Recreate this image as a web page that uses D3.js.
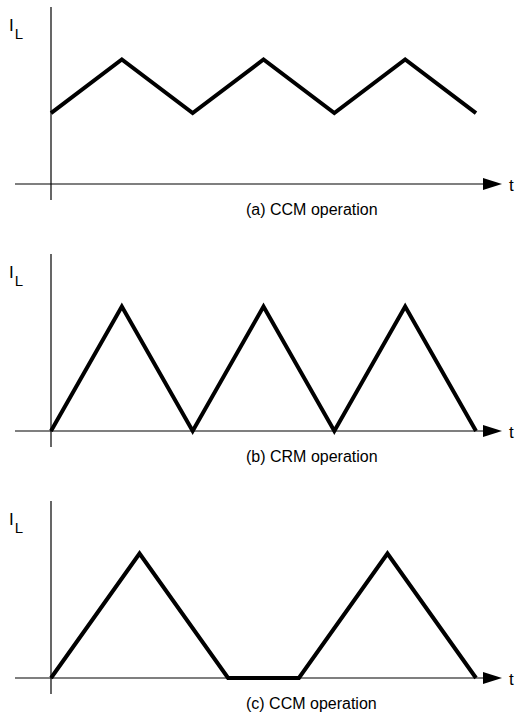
<!DOCTYPE html>
<html>
<head>
<meta charset="utf-8">
<script src="https://cdn.jsdelivr.net/npm/d3@7"></script>
<style>
  html, body { margin: 0; padding: 0; background: #fff; }
  svg { display: block; }
  text { font-family: "Liberation Sans", Arial, sans-serif; fill: #000; }
</style>
</head>
<body>
<svg id="chart" width="523" height="717"></svg>
<script>
// Inductor current waveforms, time in switching half-periods, current normalised to peak
const timeA = [0, 1, 2, 3, 4, 5, 6];
const currentA = [0.57, 1, 0.57, 1, 0.57, 1, 0.57];

const timeB = [0, 1, 2, 3, 4, 5, 6];
const currentB = [0, 1, 0, 1, 0, 1, 0];

const timeC = [0, 1.25, 2.5, 3.5, 4.75, 6];
const currentC = [0, 1, 0, 0, 1, 0];

const captions = ["(a) CCM operation", "(b) CRM operation", "(c) CCM operation"];
const yLabel = ["I", "L"];
const xLabel = "t";

const panels = [
  { t: timeA, i: currentA, caption: captions[0] },
  { t: timeB, i: currentB, caption: captions[1] },
  { t: timeC, i: currentC, caption: captions[2] }
];

const svg = d3.select("#chart");

const originX = 51;
const x = d3.scaleLinear().domain([0, 6]).range([originX, 476]);

const panelStep = 247;
const firstAxisY = 184;
const axisAbove = 177;
const axisBelow = 16;
const peakHeight = 124.5;

panels.forEach((p, k) => {
  const axisY = firstAxisY + k * panelStep;
  const y = d3.scaleLinear().domain([0, 1]).range([axisY, axisY - peakHeight]);
  const g = svg.append("g");

  // vertical axis
  g.append("line")
    .attr("x1", originX).attr("x2", originX)
    .attr("y1", axisY - axisAbove).attr("y2", axisY + axisBelow)
    .attr("stroke", "#000").attr("stroke-width", 1.2);

  // horizontal (time) axis with arrowhead
  g.append("line")
    .attr("x1", 15).attr("x2", 485)
    .attr("y1", axisY).attr("y2", axisY)
    .attr("stroke", "#000").attr("stroke-width", 1.2);
  g.append("path")
    .attr("d", `M483,${axisY - 6} L502,${axisY} L483,${axisY + 6} Z`)
    .attr("fill", "#000");

  g.append("text")
    .attr("x", 509).attr("y", axisY + 6.5)
    .attr("font-size", 17)
    .text(xLabel);

  // I_L label
  const lbl = g.append("text").attr("x", 9).attr("y", axisY - 153);
  lbl.append("tspan").attr("font-size", 17).text(yLabel[0]);
  lbl.append("tspan").attr("font-size", 15).attr("dx", 1).attr("dy", 8).text(yLabel[1]);

  // waveform
  const line = d3.line()
    .x((d, j) => x(p.t[j]))
    .y(d => y(d));
  g.append("path")
    .datum(p.i)
    .attr("d", line)
    .attr("fill", "none")
    .attr("stroke", "#000")
    .attr("stroke-width", 4)
    .attr("stroke-linejoin", "miter")
    .attr("stroke-miterlimit", 10)
    .attr("stroke-linecap", "butt");

  // caption
  g.append("text")
    .attr("x", 246).attr("y", axisY + 31)
    .attr("font-size", 16)
    .text(p.caption);
});
</script>
</body>
</html>
